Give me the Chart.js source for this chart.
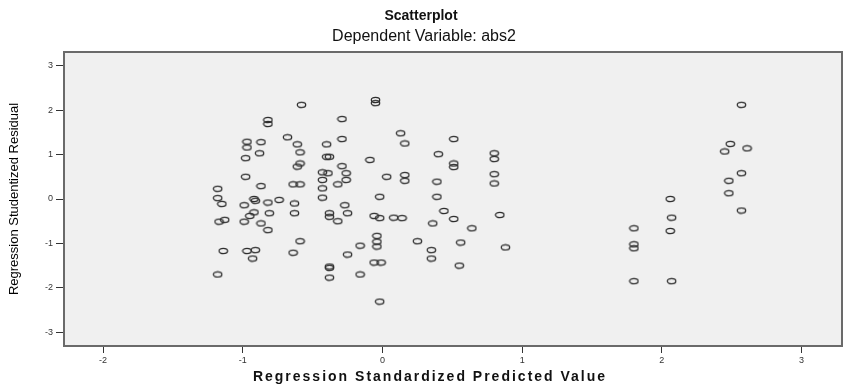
<!DOCTYPE html>
<html lang="en">
<head>
  <meta charset="UTF-8">
  <title>Scatterplot</title>
  <style>
    body {
      margin: 0;
      background: #fff;
    }
    #wrap {
      width: 848px;
      height: 386px;
    }
  </style>
  <script src="https://cdn.jsdelivr.net/npm/chart.js"></script>
</head>
<body>
  <div id="wrap"><canvas id="scatter" width="848" height="386"></canvas></div>

  <script>
    // Regression standardized predicted value (x) / studentized residual (y)
    const predicted = [
      -0.82, -0.82, -0.97, -0.97, -0.87, -0.88, -0.98, -0.68, -0.98, -0.87,
      -1.18, -1.18, -1.15, -0.99, -0.91, -0.92, -0.82, -0.74, -0.92, -0.95,
      -0.81, -0.99, -0.87, -0.82, -1.17, -1.13, -1.14, -0.97, -0.91, -0.93,
      -1.18, -0.58, -0.05, -0.05, -0.29, -0.29, -0.61, -0.40, -0.59, -0.40,
      -0.38, -0.59, -0.61, -0.29, -0.26, -0.43, -0.39, -0.43, -0.26, -0.32,
      -0.64, -0.59, -0.43, -0.43, -0.09, 0.03, -0.02, -0.63, -0.27, -0.63,
      -0.38, -0.38, -0.32, -0.25, -0.06, -0.02, -0.59, -0.64, -0.16, -0.04,
      -0.04, -0.04, -0.25, -0.06, -0.01, -0.38, -0.38, -0.38, -0.16, -0.02,
      0.13, 0.16, 0.51, 0.40, 0.51, 0.51, 0.80, 0.80, 0.80, 0.80,
      0.16, 0.16, 0.39, 0.39, 0.44, 0.51, 0.36, 0.64, 0.08, 0.14,
      0.84, 0.25, 0.56, 0.35, 0.35, 0.88, 0.55,
      2.57, 2.49, 2.45, 2.61, 2.57, 2.48, 2.48, 2.57,
      2.06, 2.07, 2.06, 2.07, 1.80, 1.80, 1.80, 1.80
    ];
    const residual = [
      1.78, 1.69, 1.29, 1.16, 1.28, 1.03, 0.92, 1.39, 0.50, 0.29,
      0.23, 0.02, -0.11, -0.14, -0.04, 0.00, -0.08, -0.02, -0.30, -0.38,
      -0.32, -0.51, -0.55, -0.70, -0.51, -0.47, -1.17, -1.17, -1.15, -1.34,
      -1.70, 2.12, 2.23, 2.16, 1.80, 1.35, 1.23, 1.23, 1.05, 0.95,
      0.95, 0.80, 0.73, 0.74, 0.58, 0.60, 0.58, 0.43, 0.43, 0.33,
      0.33, 0.33, 0.24, 0.03, 0.88, 0.50, 0.05, -0.10, -0.14, -0.32,
      -0.32, -0.40, -0.50, -0.32, -0.38, -0.43, -0.95, -1.21, -1.05, -0.83,
      -0.96, -1.07, -1.25, -1.43, -1.43, -1.52, -1.55, -1.77, -1.70, -2.31,
      1.48, 1.25, 1.35, 1.01, 0.80, 0.72, 1.03, 0.90, 0.56, 0.35,
      0.54, 0.41, 0.39, 0.05, -0.27, -0.45, -0.55, -0.66, -0.42, -0.43,
      -0.36, -0.95, -0.98, -1.15, -1.34, -1.09, -1.50,
      2.12, 1.24, 1.07, 1.14, 0.58, 0.41, 0.13, -0.26,
      0.00, -0.42, -0.72, -1.85, -0.66, -1.02, -1.11, -1.85
    ];

    const xTicks = [-2, -1, 0, 1, 2, 3];
    const yTicks = [3, 2, 1, 0, -1, -2, -3];

    // small open ellipse used as the marker
    function makeMarker() {
      const c = document.createElement('canvas');
      c.width = 11;
      c.height = 8;
      const g = c.getContext('2d');
      g.strokeStyle = '#2e2e2e';
      g.lineWidth = 1.3;
      g.beginPath();
      g.ellipse(5.5, 4, 4.2, 2.6, 0, 0, Math.PI * 2);
      g.stroke();
      return c;
    }

    const points = predicted.map((x, i) => ({ x: x, y: residual[i] }));

    const framePlugin = {
      id: 'frame',
      beforeDatasetsDraw(chart) {
        const { ctx, chartArea: a } = chart;
        ctx.save();
        ctx.fillStyle = '#f0f0f0';
        ctx.fillRect(a.left, a.top, a.right - a.left, a.bottom - a.top);
        ctx.restore();
      },
      afterDraw(chart) {
        const { ctx, chartArea: a } = chart;
        ctx.save();
        ctx.strokeStyle = '#6a6a6a';
        ctx.lineWidth = 2;
        ctx.strokeRect(a.left, a.top, a.right - a.left, a.bottom - a.top);

        ctx.fillStyle = '#111';
        ctx.textAlign = 'center';
        ctx.textBaseline = 'middle';
        ctx.font = 'bold 14px "Liberation Sans", Arial, sans-serif';
        ctx.fillText('Scatterplot', 421, 16);
        ctx.font = '16px "Liberation Sans", Arial, sans-serif';
        ctx.fillText('Dependent Variable: abs2', 424, 37);

        ctx.font = 'bold 14px "Liberation Sans", Arial, sans-serif';
        ctx.letterSpacing = '2px';
        ctx.fillText('Regression Standardized Predicted Value', 430, 377);
        ctx.restore();
      }
    };

    new Chart(document.getElementById('scatter'), {
      type: 'scatter',
      data: {
        datasets: [{
          data: points,
          pointStyle: makeMarker(),
          pointRadius: 5,
          pointHoverRadius: 5
        }]
      },
      options: {
        responsive: false,
        animation: false,
        layout: {
          padding: { top: 52, right: 6, bottom: 0, left: 0 }
        },
        plugins: {
          legend: { display: false },
          tooltip: { enabled: false }
        },
        scales: {
          x: {
            type: 'linear',
            min: -2.28,
            max: 3.29,
            afterFit(scale) { scale.height = 40; },
            afterBuildTicks(scale) { scale.ticks = xTicks.map(v => ({ value: v })); },
            border: { display: false },
            grid: {
              drawOnChartArea: false,
              drawTicks: true,
              tickLength: 7,
              color: '#333',
              lineWidth: 1
            },
            ticks: {
              font: { size: 9, family: 'Arial, sans-serif' },
              color: '#333',
              padding: 2,
              maxRotation: 0
            }
          },
          y: {
            type: 'linear',
            min: -3.31,
            max: 3.31,
            afterFit(scale) { scale.width = 64; },
            afterBuildTicks(scale) { scale.ticks = yTicks.map(v => ({ value: v })); },
            border: { display: false },
            grid: {
              drawOnChartArea: false,
              drawTicks: true,
              tickLength: 8,
              color: '#333',
              lineWidth: 1
            },
            ticks: {
              font: { size: 9, family: 'Arial, sans-serif' },
              color: '#333',
              padding: 3
            },
            title: {
              display: true,
              text: 'Regression Studentized Residual',
              color: '#000',
              font: { size: 13, family: '"Liberation Sans Narrow", "Arial Narrow", Arial, sans-serif' },
              padding: { top: 7, bottom: 0 }
            }
          }
        }
      },
      plugins: [framePlugin]
    });
  </script>
</body>
</html>
